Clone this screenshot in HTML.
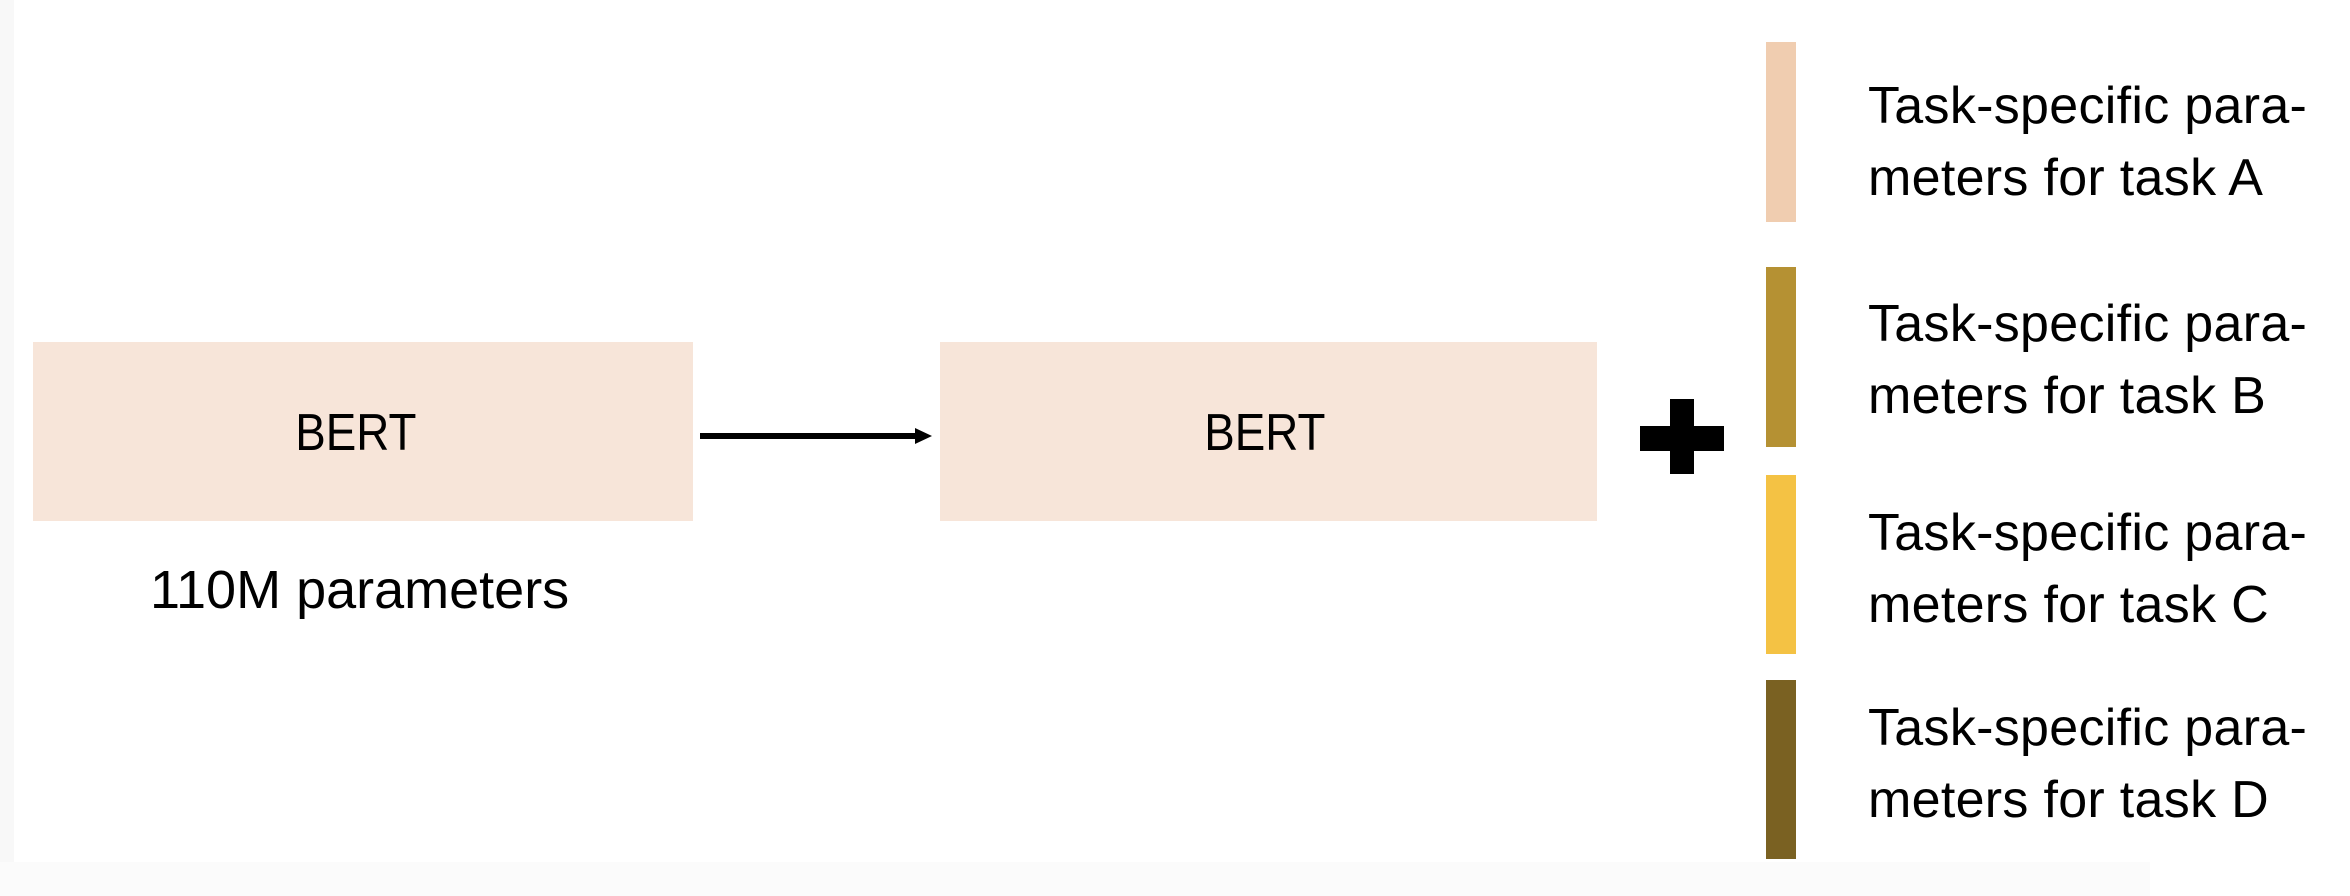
<!DOCTYPE html>
<html><head><meta charset="utf-8"><style>
html,body{margin:0;padding:0;background:#fff;}
body{width:2350px;height:896px;position:relative;overflow:hidden;font-family:"Liberation Sans",sans-serif;color:#000;}
.a{position:absolute;}
.box{background:#f7e5d9;}
.bert{position:absolute;font-size:52px;line-height:1;transform:scaleX(0.88);transform-origin:center;white-space:nowrap;}
.t{position:absolute;left:1868px;font-size:52px;line-height:72px;white-space:nowrap;letter-spacing:0.3px;}
</style></head><body>
<div class="a" style="left:0;top:0;width:14px;height:896px;background:#f8f8f8"></div>
<div class="a" style="left:0;top:862px;width:2150px;height:34px;background:#fbfbfb"></div>
<div class="a box" style="left:33px;top:342px;width:660px;height:179px"></div>
<div class="bert" style="left:288px;top:407px;width:120px;text-align:center">BERT</div>
<div class="a box" style="left:940px;top:342px;width:657px;height:179px"></div>
<div class="bert" style="left:1197px;top:407px;width:120px;text-align:center">BERT</div>
<div class="a" style="left:150px;top:563px;font-size:54px;line-height:1;white-space:nowrap">110M parameters</div>
<svg class="a" style="left:0;top:0" width="2350" height="896">
<line x1="700" y1="436" x2="918" y2="436" stroke="#000" stroke-width="6"/>
<polygon points="915,428 932,436 915,444" fill="#000"/>
<rect x="1640" y="426" width="84" height="25" fill="#000"/>
<rect x="1670" y="399" width="24" height="75" fill="#000"/>
<rect x="1766" y="42" width="30" height="180" fill="#f0cdb0"/>
<rect x="1766" y="267" width="30" height="180" fill="#b59133"/>
<rect x="1766" y="475" width="30" height="179" fill="#f4c244"/>
<rect x="1766" y="680" width="30" height="179" fill="#7a6122"/>
</svg>
<div class="t" style="top:70px">Task-specific para-<br>meters for task A</div>
<div class="t" style="top:288px">Task-specific para-<br>meters for task B</div>
<div class="t" style="top:497px">Task-specific para-<br>meters for task C</div>
<div class="t" style="top:692px">Task-specific para-<br>meters for task D</div>
</body></html>
